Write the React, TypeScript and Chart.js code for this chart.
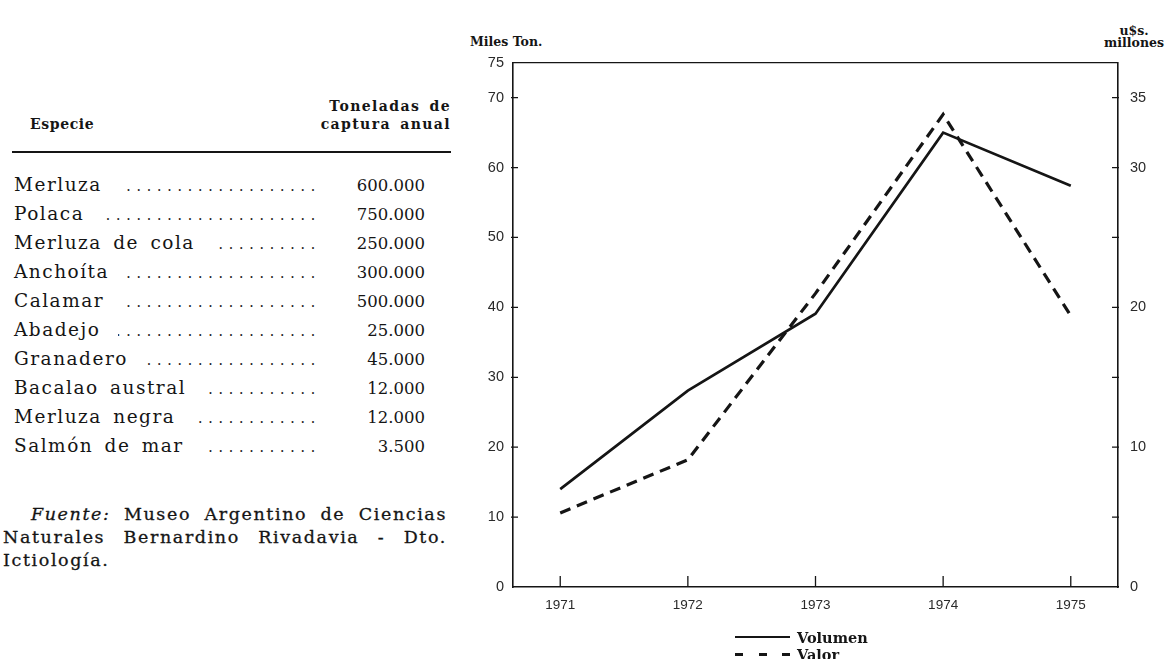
import React, { useEffect, useRef } from "react";
import { Chart, registerables } from "chart.js";

Chart.register(...registerables);

// ---- data ----
const years = [1971, 1972, 1973, 1974, 1975];
const volumen = [14.0, 28.1, 39.1, 65.0, 57.4]; // miles de toneladas
const valor = [5.3, 9.1, 21.0, 33.8, 19.4]; // u$s millones
const leftTicks = [0, 10, 20, 30, 40, 50, 60, 70, 75];
const rightTicks = [0, 5, 10, 15, 20, 25, 30, 35];
const rightLabeled = [0, 10, 20, 30, 35];

const especies = [
  "Merluza",
  "Polaca",
  "Merluza de cola",
  "Anchoíta",
  "Calamar",
  "Abadejo",
  "Granadero",
  "Bacalao austral",
  "Merluza negra",
  "Salmón de mar",
];
const toneladas = [
  "600.000",
  "750.000",
  "250.000",
  "300.000",
  "500.000",
  "25.000",
  "45.000",
  "12.000",
  "12.000",
  "3.500",
];

const fuenteLines = [
  "Museo Argentino de Ciencias",
  "Naturales Bernardino Rivadavia - Dto.",
  "Ictiología.",
];

const INK = "#151515";
const SERIF = "'DejaVu Serif', serif";
const TICKFONT = "'Liberation Sans', sans-serif";

const inwardTicks = {
  id: "inwardTicks",
  afterDraw(chart: any) {
    const { ctx, chartArea } = chart;
    const { left, right, top, bottom } = chartArea;
    const sx = chart.scales.x;
    const sy = chart.scales.y;
    const sy2 = chart.scales.y2;
    ctx.save();
    ctx.strokeStyle = INK;
    ctx.lineWidth = 1.3;
    ctx.beginPath();
    ctx.moveTo(left, top);
    ctx.lineTo(right, top);
    leftTicks.forEach((v) => {
      if (v === 0 || v === 75) return;
      const y = sy.getPixelForValue(v);
      ctx.moveTo(left - 2, y);
      ctx.lineTo(left + 5, y);
    });
    rightTicks.forEach((v) => {
      if (v === 0) return;
      const y = sy2.getPixelForValue(v);
      ctx.moveTo(right - 6, y);
      ctx.lineTo(right + 1, y);
    });
    years.forEach((v) => {
      const x = sx.getPixelForValue(v);
      ctx.moveTo(x, bottom);
      ctx.lineTo(x, bottom - 11);
    });
    ctx.stroke();
    ctx.restore();
  },
};

function LineChart() {
  const ref = useRef<HTMLCanvasElement | null>(null);
  useEffect(() => {
    if (!ref.current) return;
    const chart = new Chart(ref.current, {
      type: "line",
      data: {
        datasets: [
          {
            label: "Volumen",
            data: years.map((x, i) => ({ x, y: volumen[i] })),
            yAxisID: "y",
            borderColor: INK,
            borderWidth: 2.7,
            pointRadius: 0,
            tension: 0,
            fill: false,
          },
          {
            label: "Valor",
            data: years.map((x, i) => ({ x, y: valor[i] })),
            yAxisID: "y2",
            borderColor: INK,
            borderWidth: 3.2,
            borderDash: [11, 7],
            pointRadius: 0,
            tension: 0,
            fill: false,
          },
        ],
      },
      options: {
        responsive: false,
        animation: false,
        layout: { padding: { top: 4, left: 0, right: 0, bottom: 0 } },
        plugins: {
          legend: { display: false },
          tooltip: { enabled: false },
        },
        scales: {
          x: {
            type: "linear",
            position: "bottom",
            min: 1970.63,
            max: 1975.37,
            grid: { display: false, drawTicks: false },
            border: { display: true, color: INK, width: 1.6 },
            afterBuildTicks: (s: any) => {
              s.ticks = years.map((v) => ({ value: v }));
            },
            afterFit: (s: any) => {
              s.height = 63;
            },
            ticks: {
              padding: 10,
              color: "#2a2a2a",
              font: { family: TICKFONT, size: 13.5 },
              callback: (v: any) => String(v),
            },
          },
          y: {
            type: "linear",
            position: "left",
            min: 0,
            max: 75,
            grid: { display: false, drawTicks: false },
            border: { display: true, color: INK, width: 1.6 },
            afterBuildTicks: (s: any) => {
              s.ticks = leftTicks.map((v) => ({ value: v }));
            },
            afterFit: (s: any) => {
              s.width = 53;
            },
            ticks: {
              padding: 9,
              color: "#2a2a2a",
              font: { family: TICKFONT, size: 14.5 },
              callback: (v: any) => String(v),
            },
          },
          y2: {
            type: "linear",
            position: "right",
            min: 0,
            max: 37.5,
            grid: { display: false, drawTicks: false },
            border: { display: true, color: INK, width: 1.6 },
            afterBuildTicks: (s: any) => {
              s.ticks = rightTicks.map((v) => ({ value: v }));
            },
            afterFit: (s: any) => {
              s.width = 47;
            },
            ticks: {
              padding: 12,
              color: "#2a2a2a",
              font: { family: TICKFONT, size: 14.5 },
              callback: (v: any) => (rightLabeled.includes(Number(v)) ? String(v) : ""),
            },
          },
        },
      },
      plugins: [inwardTicks],
    } as any);
    return () => chart.destroy();
  }, []);
  return (
    <canvas
      ref={ref}
      width={705}
      height={608}
      style={{ position: "absolute", left: 460, top: 42, width: 705, height: 608 }}
    />
  );
}

export default function App() {
  const rowTop = 169.5;
  const rowH = 29.1;
  const justLine: React.CSSProperties = {
    textAlign: "justify",
    textAlignLast: "justify" as any,
    whiteSpace: "nowrap",
    height: 23,
  };
  return (
    <div
      style={{
        position: "absolute",
        left: 0,
        top: 0,
        width: 1165,
        height: 659,
        overflow: "hidden",
        background: "#fff",
        color: INK,
        fontFamily: SERIF,
      }}
    >
      {/* table header */}
      <div style={{ position: "absolute", left: 30, top: 116, fontSize: 14, fontWeight: "bold", letterSpacing: 0.6 }}>
        Especie
      </div>
      <div
        style={{
          position: "absolute",
          right: 1165 - 451,
          top: 97,
          fontSize: 14,
          fontWeight: "bold",
          letterSpacing: 1.4,
          wordSpacing: 3,
          textAlign: "right",
          lineHeight: "18px",
        }}
      >
        Toneladas de
        <br />
        captura anual
      </div>
      <div style={{ position: "absolute", left: 12, top: 151, width: 439, height: 2, background: INK }} />

      {/* rows */}
      {especies.map((name, i) => (
        <div
          key={name}
          style={{
            position: "absolute",
            left: 14,
            top: rowTop + i * rowH,
            width: 411,
            height: rowH,
            display: "flex",
            alignItems: "baseline",
            fontSize: 18.5,
            lineHeight: `${rowH}px`,
            whiteSpace: "nowrap",
          }}
        >
          <span style={{ letterSpacing: 1.5, wordSpacing: 4, paddingRight: 18 }}>{name}</span>
          <span
            style={{
              flex: 1,
              overflow: "hidden",
              direction: "rtl",
              letterSpacing: 5.8,
              fontSize: 14,
            }}
          >
            {".".repeat(60)}
          </span>
          <span style={{ width: 104, textAlign: "right", fontSize: 16.5 }}>{toneladas[i]}</span>
        </div>
      ))}

      {/* source */}
      <div
        style={{
          position: "absolute",
          left: 3,
          top: 503,
          width: 444,
          fontSize: 17.5,
          lineHeight: "23px",
          letterSpacing: 1.6,
          WebkitTextStroke: "0.3px #151515",
        }}
      >
        <div style={{ ...justLine, paddingLeft: 28 }}>
          <i>Fuente:</i> {fuenteLines[0]}
        </div>
        <div style={justLine}>{fuenteLines[1]}</div>
        <div style={{ height: 23, whiteSpace: "nowrap" }}>{fuenteLines[2]}</div>
      </div>

      {/* chart axis captions */}
      <div style={{ position: "absolute", left: 470, top: 34, fontSize: 12.5, fontWeight: "bold" }}>Miles Ton.</div>
      <div
        style={{
          position: "absolute",
          right: 1,
          top: 25,
          fontSize: 12.5,
          fontWeight: "bold",
          textAlign: "center",
          lineHeight: "12px",
        }}
      >
        u$s.
        <br />
        millones
      </div>

      <LineChart />

      {/* legend */}
      <div style={{ position: "absolute", left: 735, top: 628, fontSize: 14.5, fontWeight: "bold" }}>
        <div style={{ display: "flex", alignItems: "center", height: 18 }}>
          <div style={{ width: 55, borderTop: `2px solid ${INK}`, marginRight: 7 }} />
          <span>Volumen</span>
        </div>
        <div style={{ display: "flex", alignItems: "center", height: 16 }}>
          <div style={{ width: 55, display: "flex", justifyContent: "space-between", marginRight: 7 }}>
            <div style={{ width: 8, height: 3, background: INK }} />
            <div style={{ width: 8, height: 3, background: INK }} />
            <div style={{ width: 8, height: 3, background: INK }} />
          </div>
          <span>Valor</span>
        </div>
      </div>
    </div>
  );
}
